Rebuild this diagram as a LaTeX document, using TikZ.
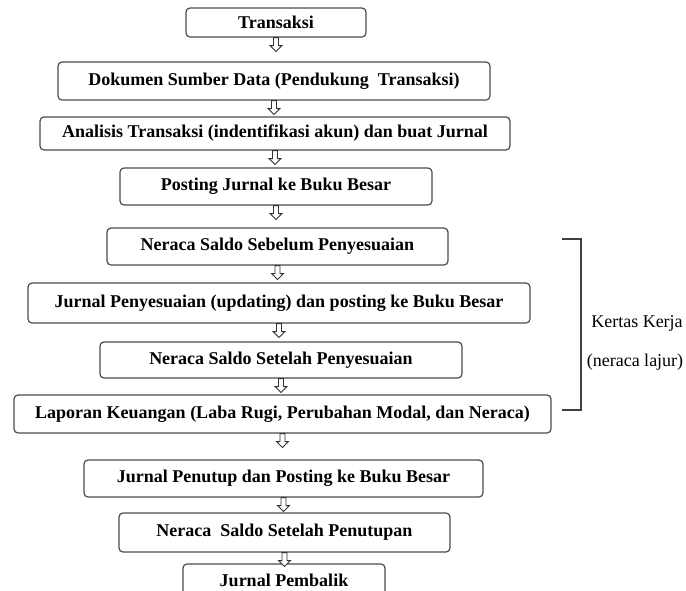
\documentclass[tikz,border=0pt]{standalone}
\usepackage{fontspec}
\setmainfont{Liberation Serif}
\usetikzlibrary{calc}

\newcommand{\flowarrow}[2]{%
  \draw[hollowarrow] ($(#1.south)+(-2.5,0)$) -- ++(0,8) -- ++(-3.5,0) -- ++(6,6)
    -- ++(6,-6) -- ++(-3.5,0) -- ($(#1.south)+(2.5,0)$) -- cycle;}

\begin{document}
\begin{tikzpicture}[x=1pt,y=-1pt]
\tikzstyle{stepbox} = [draw=black!70,line width=1.2pt,rounded corners=4pt,fill=white,
  inner sep=0pt,font=\bfseries\fontsize{18}{20}\selectfont]
\tikzstyle{hollowarrow} = [draw=black!80,line width=0.9pt,fill=white,line join=miter]
\tikzstyle{sidetext} = [font=\fontsize{18}{20}\selectfont]
\useasboundingbox[fill=white] (0,0) rectangle (686,590);
\node[stepbox,minimum width=180pt,minimum height=29pt] (trans) at (276,22.5) {Transaksi};
\node[stepbox,minimum width=432pt,minimum height=38pt] (dok) at (274,81) {Dokumen Sumber Data (Pendukung\ \ Transaksi)};
\node[stepbox,minimum width=470pt,minimum height=33pt] (anal) at (275,133.5) {Analisis Transaksi (indentifikasi akun) dan buat Jurnal};
\node[stepbox,minimum width=312pt,minimum height=37pt] (post) at (276,186.5) {Posting Jurnal ke Buku Besar};
\node[stepbox,minimum width=341pt,minimum height=37pt] (nssp) at (277.5,246.5) {Neraca Saldo Sebelum Penyesuaian};
\node[stepbox,minimum width=502pt,minimum height=40pt] (jp) at (279,303) {Jurnal Penyesuaian (updating) dan posting ke Buku Besar};
\node[stepbox,minimum width=362pt,minimum height=36pt] (nsst) at (281,360) {Neraca Saldo Setelah Penyesuaian};
\node[stepbox,minimum width=537pt,minimum height=38pt] (lap) at (282.5,414) {Laporan Keuangan (Laba Rugi, Perubahan Modal, dan Neraca)};
\node[stepbox,minimum width=399pt,minimum height=37pt] (tutup) at (283.5,478.5) {Jurnal Penutup dan Posting ke Buku Besar};
\node[stepbox,minimum width=331pt,minimum height=39pt] (nstp) at (284.5,532.5) {Neraca\ \ Saldo Setelah Penutupan};
\node[stepbox,minimum width=202pt,minimum height=32pt] (balik) at (284,580) {Jurnal Pembalik};
\flowarrow{trans}{dok}
\flowarrow{dok}{anal}
\flowarrow{anal}{post}
\flowarrow{post}{nssp}
\flowarrow{nssp}{jp}
\flowarrow{jp}{nsst}
\flowarrow{nsst}{lap}
\flowarrow{lap}{tutup}
\flowarrow{tutup}{nstp}
\flowarrow{nstp}{balik}
\coordinate (brtop) at (562,239);
\coordinate (brbot) at (562,410);
\draw[draw=black!75,line width=1.3pt] (brtop) -- ++(19,0) |- (brbot);
\node[sidetext] (kertas) at (637,323) {Kertas Kerja};
\node[sidetext] (lajur) at (635,362) {(neraca lajur)};
\end{tikzpicture}
\end{document}
